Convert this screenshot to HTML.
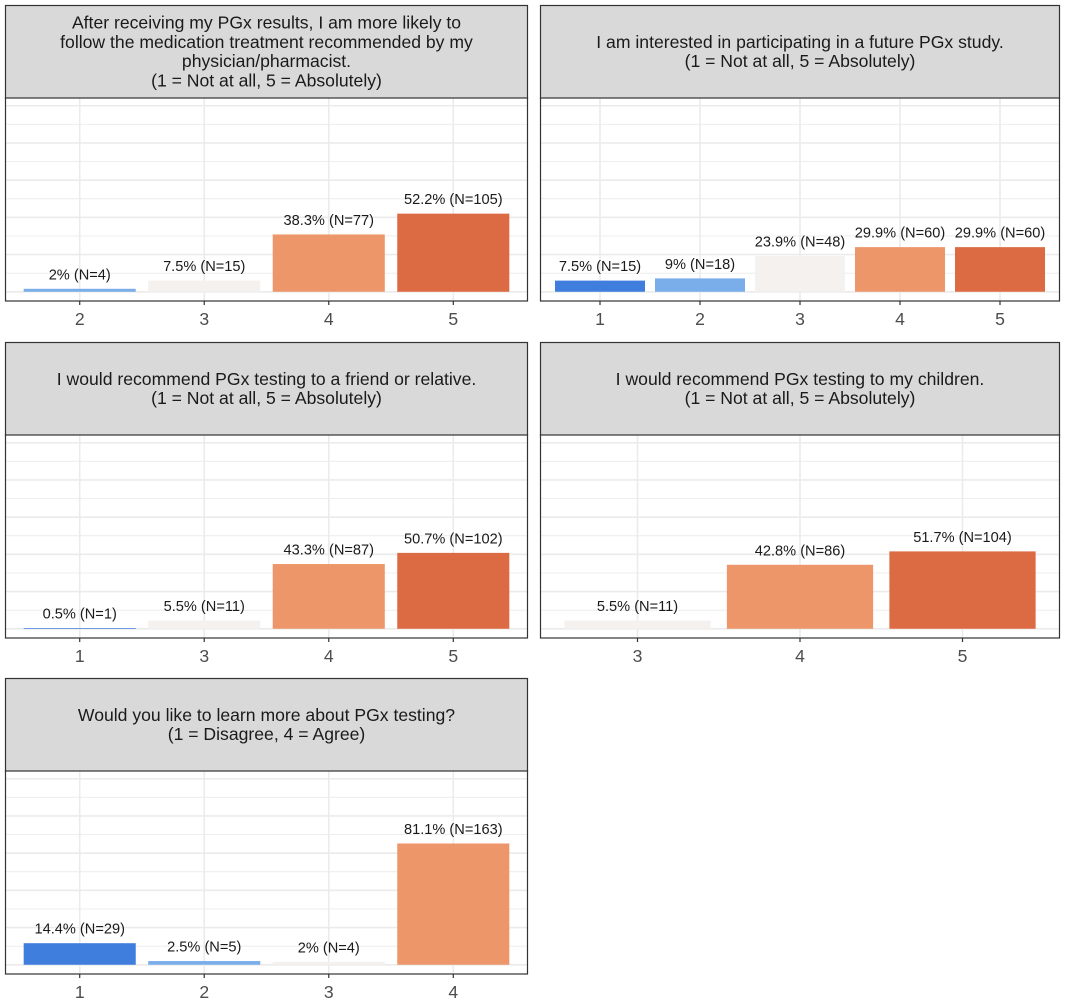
<!DOCTYPE html>
<html><head><meta charset="utf-8"><style>
html,body{margin:0;padding:0;background:#fff;}
svg{display:block;font-family:"Liberation Sans",Arial,sans-serif;}
</style></head><body>
<svg id="chart" width="1065" height="1004" viewBox="0 0 1065 1004" xmlns="http://www.w3.org/2000/svg"></svg>
<script>
// Panel data
const titles1 = ["After receiving my PGx results, I am more likely to","follow the medication treatment recommended by my","physician/pharmacist.","(1 = Not at all, 5 = Absolutely)"];
const cats1 = ["2","3","4","5"];
const counts1 = [4,15,77,105];
const pcts1 = ["2%","7.5%","38.3%","52.2%"];

const titles2 = ["I am interested in participating in a future PGx study.","(1 = Not at all, 5 = Absolutely)"];
const cats2 = ["1","2","3","4","5"];
const counts2 = [15,18,48,60,60];
const pcts2 = ["7.5%","9%","23.9%","29.9%","29.9%"];

const titles3 = ["I would recommend PGx testing to a friend or relative.","(1 = Not at all, 5 = Absolutely)"];
const cats3 = ["1","3","4","5"];
const counts3 = [1,11,87,102];
const pcts3 = ["0.5%","5.5%","43.3%","50.7%"];

const titles4 = ["I would recommend PGx testing to my children.","(1 = Not at all, 5 = Absolutely)"];
const cats4 = ["3","4","5"];
const counts4 = [11,86,104];
const pcts4 = ["5.5%","42.8%","51.7%"];

const titles5 = ["Would you like to learn more about PGx testing?","(1 = Disagree, 4 = Agree)"];
const cats5 = ["1","2","3","4"];
const counts5 = [29,5,4,163];
const pcts5 = ["14.4%","2.5%","2%","81.1%"];

const yTicks = [0,25,50,75,100,125,150,175,200,225,250];
const yMax = 248;

const colorMap = {"1":"#3f7edc","2":"#7aaeea","3":"#f4f1ee","4":"#ed966a","5":"#dc6b44"};
const NS = "http://www.w3.org/2000/svg";
const svg = document.getElementById('chart');

function mk(tag, attrs, parent){
  const e = document.createElementNS(NS, tag);
  for (const k in attrs) e.setAttribute(k, attrs[k]);
  (parent||svg).appendChild(e);
  return e;
}

function panel(id, x0, x1, top, titles, cats, counts, pcts){
  const g = mk('g', {});
  
  
  const stripH = 93, plotH = 203;
  const pTop = top + stripH, pBot = pTop + plotH;
  const W = x1 - x0;
  const strip = mk('rect', {x:x0+0.5, y:top+0.5, width:W-1, height:stripH, fill:'#d9d9d9', stroke:'#333', 'stroke-width':1.2}, g);
  
  
  const lh = 19.3;
  const cy = top + stripH/2;
  const startY = cy - (titles.length-1)*lh/2 + 6;
  titles.forEach((t,i)=>{
    const tx = mk('text', {x:(x0+x1)/2, y:startY+i*lh, 'text-anchor':'middle', 'font-size':17.6, fill:'#1a1a1a'}, g);
    tx.textContent = t;
    
    
  });
  mk('rect', {x:x0, y:pTop, width:W, height:plotH, fill:'#fff'}, g);
  const exp = plotH / 1.1 * 0.05;
  const dataH = plotH / 1.1;
  const base = pBot - exp;
  const yS = v => base - v / yMax * dataH;
  const n = cats.length;
  const unit = W / (n - 1 + 1.2);
  const xS = i => x0 + (0.6 + i) * unit;
  yTicks.forEach((v,i)=>{
    const yy = yS(v);
    if (yy < pTop) return;
    const gl = mk('line', {x1:x0, x2:x1, y1:yy, y2:yy, stroke:'#ebebeb', 'stroke-width': i%2===0 ? 1.6 : 0.9}, g);
    
    
  });
  cats.forEach((c,i)=>{
    const gl = mk('line', {x1:xS(i), x2:xS(i), y1:pTop, y2:pBot, stroke:'#ebebeb', 'stroke-width':1.6}, g);
    
    
  });
  cats.forEach((c,i)=>{
    const bw = unit * 0.9;
    const yt = yS(counts[i]);
    const b = mk('rect', {x:xS(i)-bw/2, y:yt, width:bw, height:base-yt, fill:colorMap[c]}, g);
    
    
    const lb = mk('text', {x:xS(i), y:yt-9.5, 'text-anchor':'middle', 'font-size':14.6, fill:'#1a1a1a'}, g);
    lb.textContent = pcts[i] + ' (N=' + counts[i] + ')';
    
    
  });
  const bd = mk('rect', {x:x0+0.5, y:pTop, width:W-1, height:plotH, fill:'none', stroke:'#333', 'stroke-width':1.2}, g);
  
  
  cats.forEach((c,i)=>{
    mk('line', {x1:xS(i), x2:xS(i), y1:pBot, y2:pBot+4, stroke:'#333', 'stroke-width':1.2}, g);
    const tl = mk('text', {x:xS(i), y:pBot+24, 'text-anchor':'middle', 'font-size':17.6, fill:'#4d4d4d'}, g);
    tl.textContent = c;
    
    
  });
}

panel('medication', 5, 528, 5, titles1, cats1, counts1, pcts1);
panel('future-study', 540, 1060, 5, titles2, cats2, counts2, pcts2);
panel('friend-relative', 5, 528, 342, titles3, cats3, counts3, pcts3);
panel('children', 540, 1060, 342, titles4, cats4, counts4, pcts4);
panel('learn-more', 5, 528, 678, titles5, cats5, counts5, pcts5);
</script>
</body></html>
